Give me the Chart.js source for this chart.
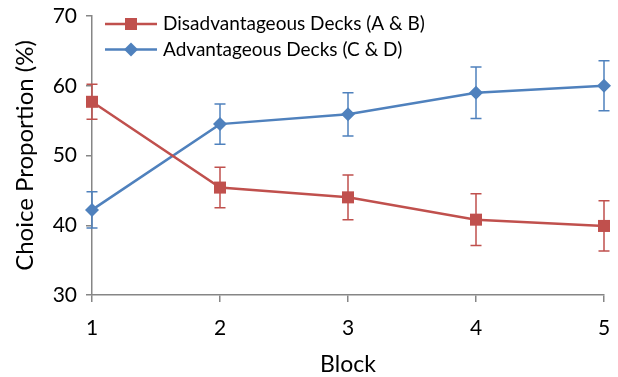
<!DOCTYPE html>
<html>
<head>
<meta charset="utf-8">
<script src="https://cdn.jsdelivr.net/npm/chart.js@4.4.1/dist/chart.umd.min.js"></script>
<style>
  html, body { margin: 0; padding: 0; background: #fff; }
  #wrap { width: 618px; height: 377px; }
</style>
</head>
<body>
<div id="wrap"><canvas id="chart" width="618" height="377"></canvas></div>
<script>
// ============================
// DATOS
// ============================
const blocks = ['1', '2', '3', '4', '5'];
const disadvMean = [57.7, 45.4, 44.0, 40.8, 39.9];
const disadvErr  = [2.5, 2.9, 3.2, 3.7, 3.6];
const advMean    = [42.2, 54.5, 55.9, 59.0, 60.0];
const advErr     = [2.6, 2.9, 3.1, 3.7, 3.6];
const yTicks     = [30, 40, 50, 60, 70];

const RED  = '#C0504D';
const BLUE = '#4F81BD';
const AXIS = '#868686';
const FONT = 'Lato, "Open Sans", sans-serif';

// ============================
// PLUGIN: barras de error
// ============================
const errorBars = {
    id: 'errorBars',
    beforeDatasetsDraw(chart) {
        const { ctx, scales: { y } } = chart;
        chart.data.datasets.forEach((ds, i) => {
            if (!ds.errors) return;
            const meta = chart.getDatasetMeta(i);
            ctx.save();
            ctx.strokeStyle = ds.borderColor;
            ctx.lineWidth = 1.5;
            meta.data.forEach((pt, j) => {
                const v = ds.data[j];
                const e = ds.errors[j];
                const px = pt.x;
                const top = y.getPixelForValue(v + e);
                const bot = y.getPixelForValue(v - e);
                ctx.beginPath();
                ctx.moveTo(px, top); ctx.lineTo(px, bot);
                ctx.moveTo(px - 5.5, top); ctx.lineTo(px + 5.5, top);
                ctx.moveTo(px - 5.5, bot); ctx.lineTo(px + 5.5, bot);
                ctx.stroke();
            });
            ctx.restore();
        });
    }
};

// ============================
// PLUGIN: leyenda dentro del área
// ============================
const insideLegend = {
    id: 'insideLegend',
    afterDraw(chart) {
        const { ctx } = chart;
        const x0 = 105, x1 = 157, rowH = 25.5;
        chart.data.datasets.forEach((ds, i) => {
            const yy = 24 + i * rowH;
            ctx.save();
            ctx.strokeStyle = ds.borderColor;
            ctx.lineWidth = 2.5;
            ctx.beginPath();
            ctx.moveTo(x0, yy); ctx.lineTo(x1, yy);
            ctx.stroke();
            ctx.fillStyle = ds.backgroundColor;
            const cx = (x0 + x1) / 2;
            if (ds.pointStyle === 'rect') {
                ctx.fillRect(cx - 6, yy - 6, 12, 12);
            } else {
                ctx.beginPath();
                ctx.moveTo(cx, yy - 7); ctx.lineTo(cx + 7, yy);
                ctx.lineTo(cx, yy + 7); ctx.lineTo(cx - 7, yy);
                ctx.closePath(); ctx.fill();
            }
            ctx.fillStyle = '#000';
            ctx.font = '19px ' + FONT;
            ctx.textBaseline = 'middle';
            ctx.fillText(ds.label, 163, yy);
            ctx.restore();
        });
    }
};

// ============================
// GRAFICO
// ============================
const ctx = document.getElementById('chart').getContext('2d');

new Chart(ctx, {
    type: 'line',
    data: {
        labels: blocks,
        datasets: [
            {
                label: 'Disadvantageous Decks (A & B)',
                data: disadvMean,
                errors: disadvErr,
                borderColor: RED,
                backgroundColor: RED,
                borderWidth: 2.5,
                pointStyle: 'rect',
                pointRadius: 8.5,
                pointBorderWidth: 0,
                tension: 0,
                clip: false
            },
            {
                label: 'Advantageous Decks (C & D)',
                data: advMean,
                errors: advErr,
                borderColor: BLUE,
                backgroundColor: BLUE,
                borderWidth: 2.5,
                pointStyle: 'rectRot',
                pointRadius: 7,
                pointBorderWidth: 0,
                tension: 0,
                clip: false
            }
        ]
    },
    options: {
        responsive: false,
        animation: false,
        layout: { padding: { top: 16, right: 14, left: 0, bottom: 0 } },
        plugins: {
            legend: { display: false },
            tooltip: { enabled: false }
        },
        scales: {
            x: {
                offset: false,
                grid: { drawOnChartArea: false, drawTicks: true, tickLength: 7, color: AXIS, lineWidth: 1.5 },
                border: { color: AXIS, width: 1.5 },
                ticks: { color: '#000', font: { family: FONT, size: 21 }, padding: 14 },
                title: { display: true, text: 'Block', color: '#000', font: { family: FONT, size: 23, lineHeight: 1.1 }, padding: { top: 4, bottom: 0 } },
                afterFit(scale) {
                    scale.height = 82;
                    scale.paddingLeft = 0;
                    scale.paddingRight = 0;
                }
            },
            y: {
                min: 30,
                max: 70,
                afterBuildTicks(scale) { scale.ticks = yTicks.map(v => ({ value: v })); },
                grid: { drawOnChartArea: false, drawTicks: true, tickLength: 6, color: AXIS, lineWidth: 1.5 },
                border: { color: AXIS, width: 1.5 },
                ticks: { color: '#000', font: { family: FONT, size: 21 }, padding: 9 },
                title: { display: true, text: 'Choice Proportion (%)', color: '#000', font: { family: FONT, size: 24 }, padding: { top: 11, bottom: 0 } },
                afterFit(scale) {
                    scale.width = 92;
                    scale.paddingTop = 0;
                    scale.paddingBottom = 0;
                }
            }
        }
    },
    plugins: [errorBars, insideLegend]
});
</script>
</body>
</html>
